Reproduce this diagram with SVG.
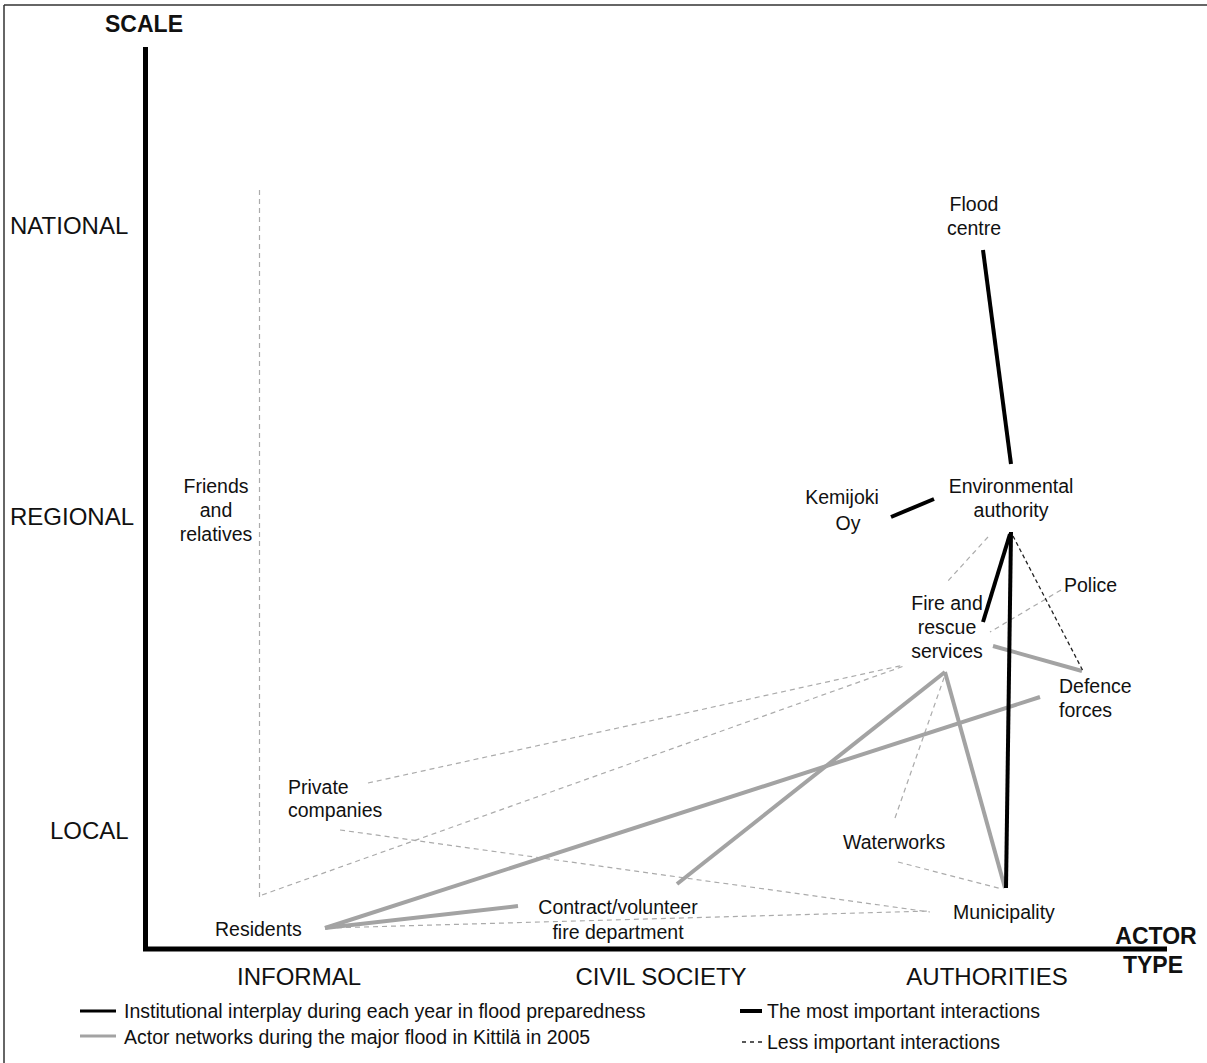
<svg xmlns="http://www.w3.org/2000/svg" width="1207" height="1063" viewBox="0 0 1207 1063">
<style>
text{font-family:"Liberation Sans",Arial,sans-serif;fill:#111}
.lbl{font-size:19.5px}
.ax{font-size:24px}
.axb{font-size:23px;font-weight:bold}
.leg{font-size:19.5px}
.mid{text-anchor:middle}
.blk{stroke:#000;stroke-width:4;fill:none;stroke-linecap:butt}
.gry{stroke:#a3a3a3;stroke-width:4;fill:none}
.gd{stroke:#ababab;stroke-width:1.2;stroke-dasharray:5 4;fill:none}
.bd{stroke:#222;stroke-width:1.3;stroke-dasharray:4 3;fill:none}
</style>
<rect width="1207" height="1063" fill="#fff"/>
<g id="frame">
<line x1="4" y1="5" x2="1207" y2="5" stroke="#333" stroke-width="1.5"/>
<line x1="4" y1="5" x2="4" y2="1063" stroke="#333" stroke-width="1.5"/>
</g>
<g id="axes">
<line x1="145.5" y1="47" x2="145.5" y2="951" stroke="#000" stroke-width="5"/>
<line x1="143" y1="949" x2="1167" y2="949" stroke="#000" stroke-width="5"/>
<text class="axb mid" x="144" y="32">SCALE</text>
<text class="axb mid" x="1156" y="944">ACTOR</text>
<text class="axb mid" x="1153" y="973">TYPE</text>
<text class="ax" x="10" y="234">NATIONAL</text>
<text class="ax" x="10" y="525">REGIONAL</text>
<text class="ax" x="50" y="839">LOCAL</text>
<text class="ax mid" x="299" y="985">INFORMAL</text>
<text class="ax mid" x="661" y="985">CIVIL SOCIETY</text>
<text class="ax mid" x="987" y="985">AUTHORITIES</text>
</g>
<g id="connectors">
<line class="gd" x1="259.5" y1="190" x2="259.5" y2="897"/>
<line class="gd" x1="368" y1="783" x2="904" y2="665"/>
<line class="gd" x1="262" y1="895" x2="904" y2="666"/>
<line class="gd" x1="340" y1="830" x2="930" y2="912"/>
<line class="gd" x1="328" y1="928" x2="930" y2="911"/>
<line class="gd" x1="898" y1="862" x2="1002" y2="889"/>
<line class="gd" x1="895" y1="818" x2="945" y2="675"/>
<line class="gd" x1="988" y1="537" x2="947" y2="582"/>
<line class="gd" x1="1061" y1="590" x2="990" y2="632"/>
<line class="gry" x1="945" y1="672" x2="1005" y2="888"/>
<line class="gry" x1="945" y1="672" x2="677" y2="884"/>
<line class="gry" x1="325" y1="928" x2="1040" y2="697"/>
<line class="gry" x1="325" y1="928" x2="518" y2="906"/>
<line class="gry" x1="993" y1="646" x2="1082" y2="671"/>
<line class="bd" x1="1013" y1="536" x2="1083" y2="671"/>
<line class="blk" x1="983" y1="250" x2="1011" y2="464"/>
<line class="blk" x1="891" y1="517" x2="934" y2="499"/>
<line class="blk" x1="1011" y1="532" x2="1006" y2="888"/>
<line class="blk" x1="1010" y1="534" x2="983" y2="622"/>
</g>
<g id="flood-centre"><text class="lbl mid" x="974" y="211">Flood</text><text class="lbl mid" x="974" y="235">centre</text></g>
<g id="environmental-authority"><text class="lbl mid" x="1011" y="493">Environmental</text><text class="lbl mid" x="1011" y="517">authority</text></g>
<g id="kemijoki"><text class="lbl mid" x="842" y="504">Kemijoki</text><text class="lbl mid" x="848" y="530">Oy</text></g>
<g id="friends"><text class="lbl mid" x="216" y="493">Friends</text><text class="lbl mid" x="216" y="517">and</text><text class="lbl mid" x="216" y="541">relatives</text></g>
<g id="police"><text class="lbl" x="1064" y="592">Police</text></g>
<g id="fire-rescue"><text class="lbl mid" x="947" y="610">Fire and</text><text class="lbl mid" x="947" y="634">rescue</text><text class="lbl mid" x="947" y="658">services</text></g>
<g id="defence"><text class="lbl" x="1059" y="693">Defence</text><text class="lbl" x="1059" y="717">forces</text></g>
<g id="waterworks"><text class="lbl" x="843" y="849">Waterworks</text></g>
<g id="municipality"><text class="lbl" x="953" y="919">Municipality</text></g>
<g id="private"><text class="lbl" x="288" y="794">Private</text><text class="lbl" x="288" y="817">companies</text></g>
<g id="residents"><text class="lbl" x="215" y="936">Residents</text></g>
<g id="contract"><text class="lbl mid" x="618" y="914">Contract/volunteer</text><text class="lbl mid" x="618" y="939">fire department</text></g>
<g id="legend">
<line x1="80" y1="1011" x2="116" y2="1011" stroke="#000" stroke-width="3"/>
<line x1="80" y1="1036" x2="116" y2="1036" stroke="#a3a3a3" stroke-width="3"/>
<text class="leg" x="124" y="1018">Institutional interplay during each year in flood preparedness</text>
<text class="leg" x="124" y="1044">Actor networks during the major flood in Kittilä in 2005</text>
<line x1="740" y1="1011" x2="762" y2="1011" stroke="#000" stroke-width="4"/>
<line x1="742" y1="1042" x2="762" y2="1042" stroke="#222" stroke-width="1.5" stroke-dasharray="4 4"/>
<text class="leg" x="767" y="1018">The most important interactions</text>
<text class="leg" x="767" y="1049">Less important interactions</text>
</g>
</svg>
